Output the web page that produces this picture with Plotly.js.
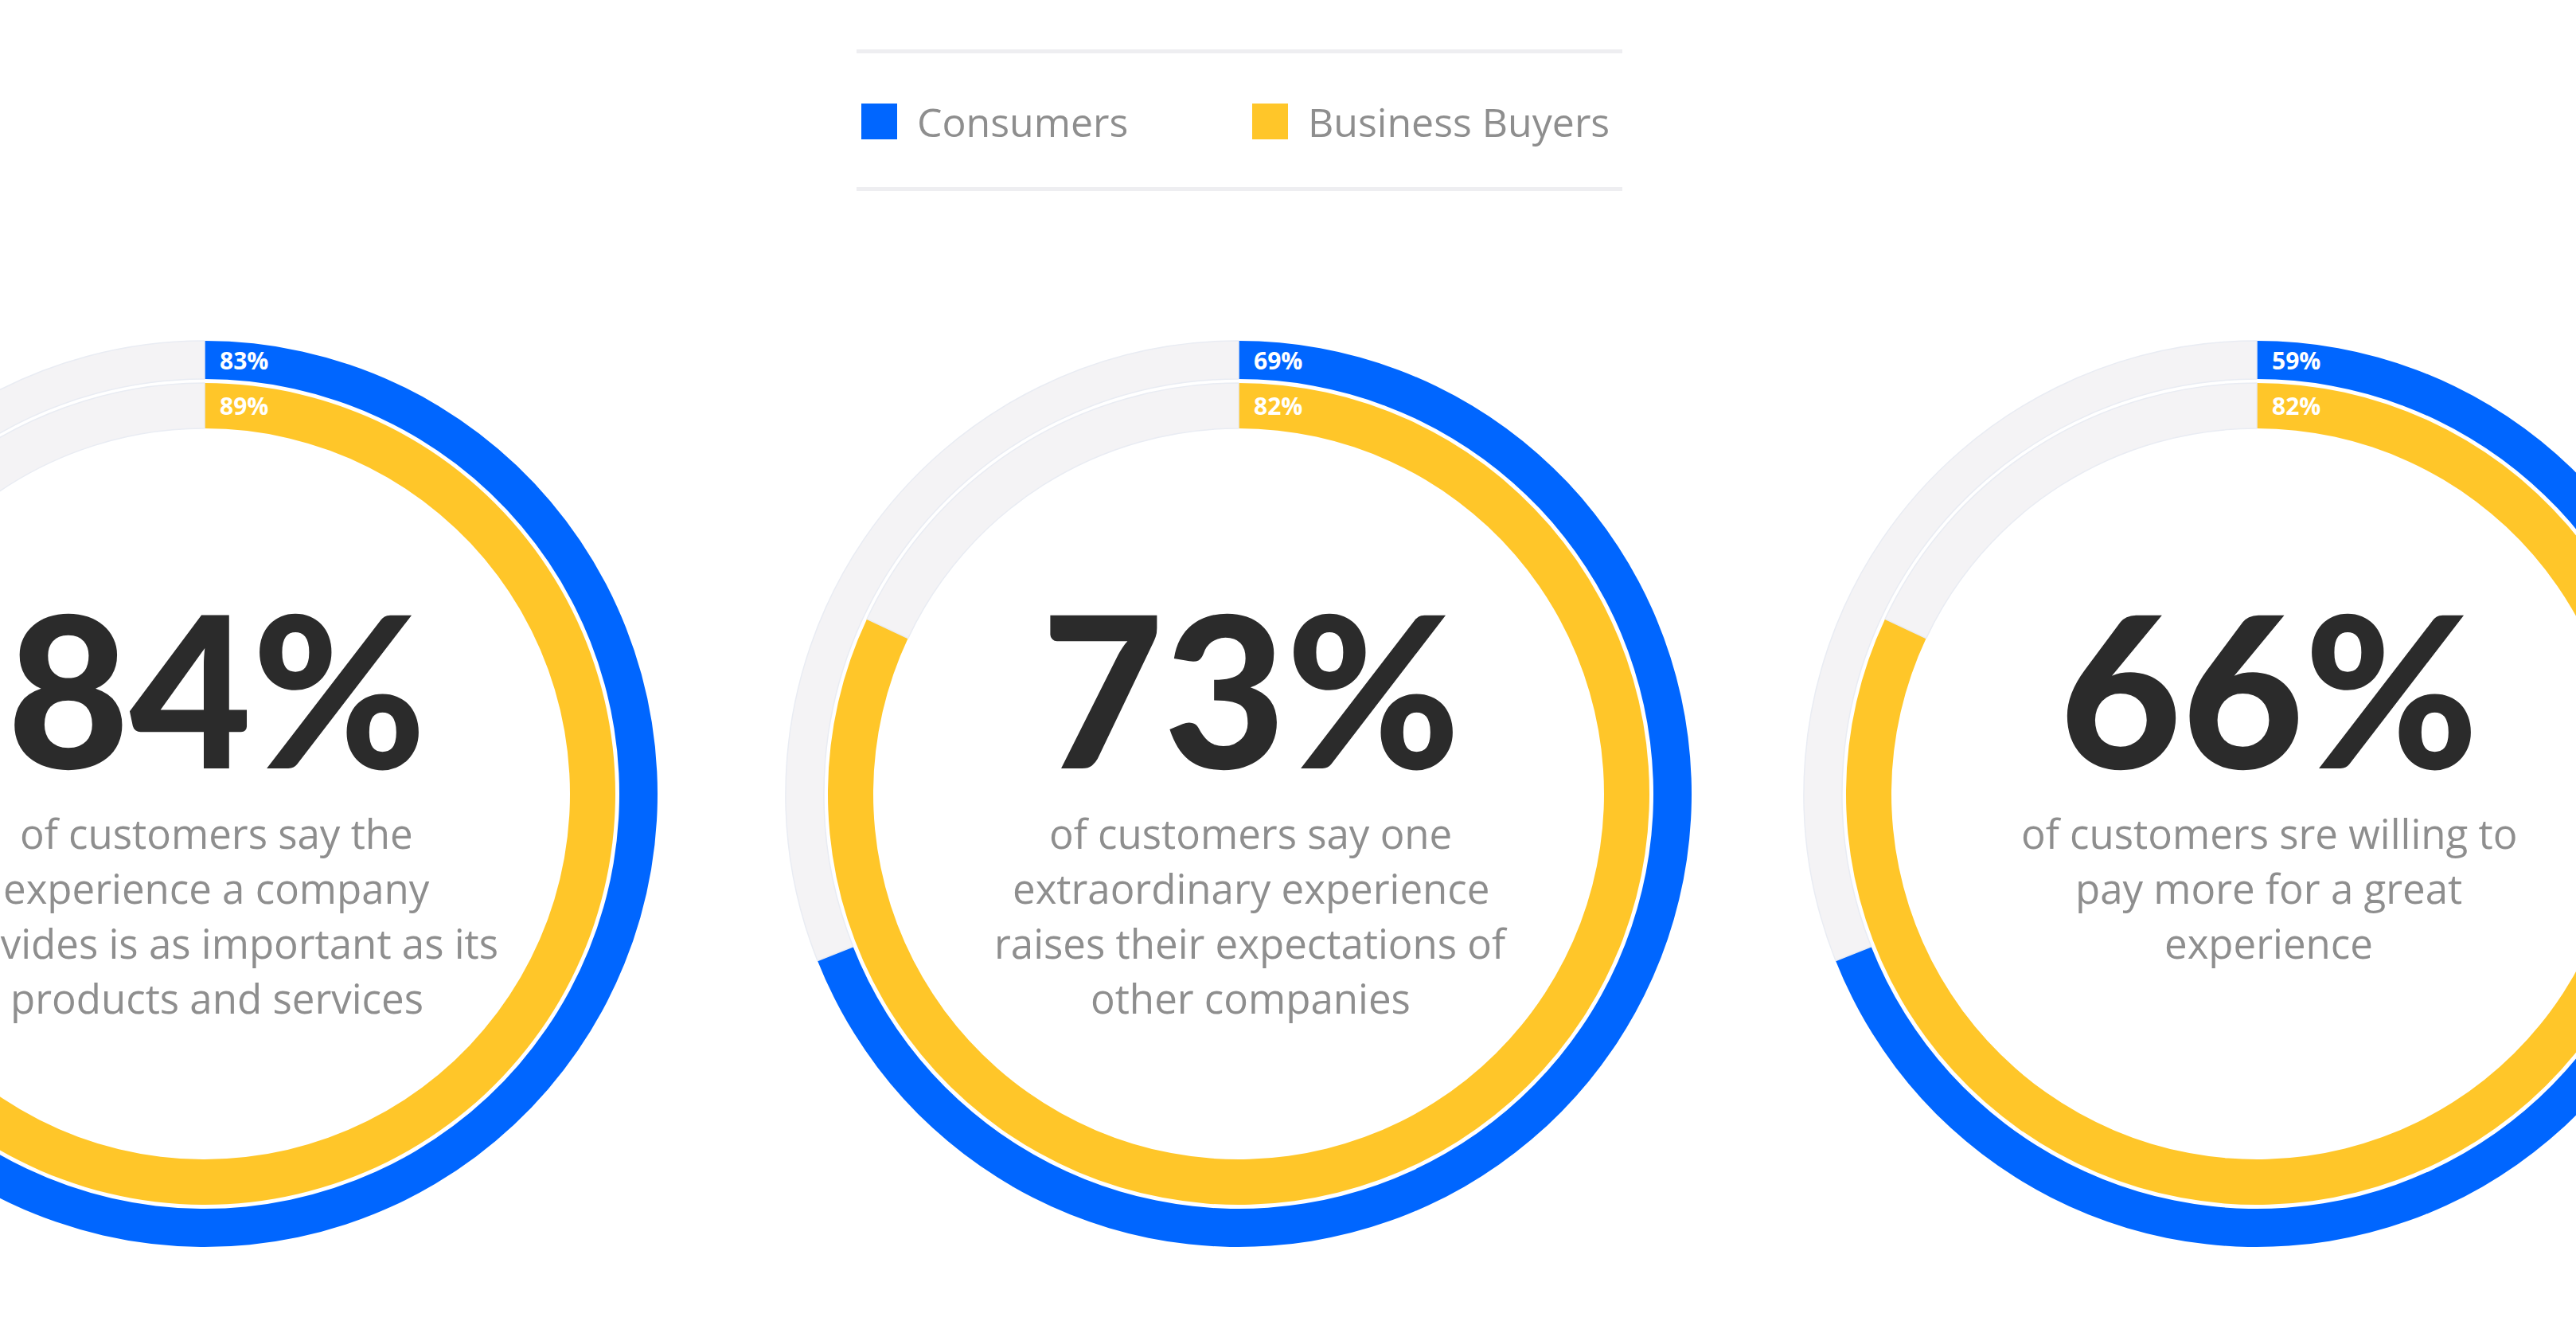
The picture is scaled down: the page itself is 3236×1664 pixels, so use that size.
<!DOCTYPE html>
<html>
<head>
<meta charset="utf-8">
<script src="https://cdn.plot.ly/plotly-3.0.1.min.js"></script>
<style>
  html, body { margin: 0; padding: 0; width: 3236px; height: 1664px; overflow: hidden; background: #ffffff; }
  #chart { position: absolute; top: 0; left: -400px; width: 4036px; height: 1664px; }
</style>
</head>
<body>
<div id="chart"></div>
<script>
// ---------- data ----------
const seriesNames = ['Consumers', 'Business Buyers'];
const headline = [84, 73, 66];
// arc lengths as drawn in the picture (the third blue arc is drawn at ~69% although labelled 59%)
const consumersArc = [83, 69, 69];
const consumersLabel = [83, 69, 59];
const businessArc = [89, 82, 82];
const businessLabel = [89, 82, 82];
const captions = [
  ['of customers say the', 'experience a company', 'provides is as important as its', 'products and services'],
  ['of customers say one', 'extraordinary experience', 'raises their expectations of', 'other companies'],
  ['of customers sre willing to', 'pay more for a great', 'experience']
];

// ---------- layout geometry / styles ----------
const W = 3236, H = 1664, EXT = 400, PW = W + 2 * EXT;
const centersX = [257, 1556, 2835];
const CY = 997;
const OUT_R = 569, OUT_IN = 521;   // consumers ring
const INN_R = 516, INN_IN = 459;   // business buyers ring
const BLUE = '#0066ff', YELLOW = '#ffc629', TRACK = '#f4f3f5';
const DARK = '#2b2b2b', GREY = '#8e8e8e';

const fx = x => (x + EXT) / PW;
const fy = y => 1 - y / H;

const traces = [];
const annotations = [];
const shapes = [];

centersX.forEach((cx, i) => {
  const rings = [
    {v: consumersArc[i], lab: consumersLabel[i], r: OUT_R, ri: OUT_IN, c: BLUE, name: seriesNames[0]},
    {v: businessArc[i], lab: businessLabel[i], r: INN_R, ri: INN_IN, c: YELLOW, name: seriesNames[1]}
  ];
  rings.forEach(g => {
    traces.push({
      type: 'pie',
      name: g.name,
      labels: [g.name, 'Other'],
      values: [g.v, 100 - g.v],
      sort: false,
      direction: 'clockwise',
      rotation: 0,
      hole: g.ri / g.r,
      textinfo: 'none',
      hoverinfo: 'skip',
      showlegend: false,
      marker: {colors: [g.c, TRACK], line: {color: ['#ffffff', '#e9ecf3'], width: [0, 1.5]}},
      domain: {x: [fx(cx - g.r), fx(cx + g.r)], y: [fy(CY + g.r), fy(CY - g.r)]}
    });
    annotations.push({
      xref: 'paper', yref: 'paper',
      x: fx(cx + 17), y: fy(CY - (g.r + g.ri) / 2),
      xanchor: 'left', yanchor: 'middle', showarrow: false,
      text: g.lab + '%',
      font: {family: 'Open Sans', size: 30, weight: 700, color: '#ffffff'}
    });
  });

  annotations.push({
    xref: 'paper', yref: 'paper',
    x: fx(cx + 15), y: fy(862),
    xanchor: 'center', yanchor: 'middle', showarrow: false,
    height: 236, valign: 'middle',
    text: headline[i] + '%',
    font: {family: 'Lato', size: 265, weight: 900, color: DARK}
  });

  captions[i].forEach((line, k) => {
    annotations.push({
      xref: 'paper', yref: 'paper',
      x: fx(cx + 15), y: fy(1046 + k * 69),
      xanchor: 'center', yanchor: 'middle', showarrow: false,
      height: 64, valign: 'middle',
      text: line,
      font: {family: 'Open Sans', size: 51, color: GREY}
    });
  });
});

// legend (divider lines, swatches, labels)
[62, 235].forEach(y => shapes.push({
  type: 'rect', xref: 'paper', yref: 'paper',
  x0: fx(1076), x1: fx(2038), y0: fy(y + 5), y1: fy(y),
  fillcolor: '#eeeef1', line: {width: 0}
}));
const legendItems = [
  {name: seriesNames[0], color: BLUE, sx: 1082, tx: 1150},
  {name: seriesNames[1], color: YELLOW, sx: 1573, tx: 1641}
];
legendItems.forEach(it => {
  shapes.push({
    type: 'rect', xref: 'paper', yref: 'paper',
    x0: fx(it.sx), x1: fx(it.sx + 45), y0: fy(175), y1: fy(130),
    fillcolor: it.color, line: {width: 0}
  });
  annotations.push({
    xref: 'paper', yref: 'paper',
    x: fx(it.tx), y: fy(153),
    xanchor: 'left', yanchor: 'middle', showarrow: false,
    text: it.name,
    font: {family: 'Open Sans', size: 50, color: GREY}
  });
});

const layout = {
  width: PW, height: H,
  margin: {l: 0, r: 0, t: 0, b: 0},
  paper_bgcolor: '#ffffff',
  plot_bgcolor: '#ffffff',
  showlegend: false,
  annotations: annotations,
  shapes: shapes
};

Plotly.newPlot('chart', traces, layout, {displayModeBar: false, staticPlot: true});
</script>
</body>
</html>
